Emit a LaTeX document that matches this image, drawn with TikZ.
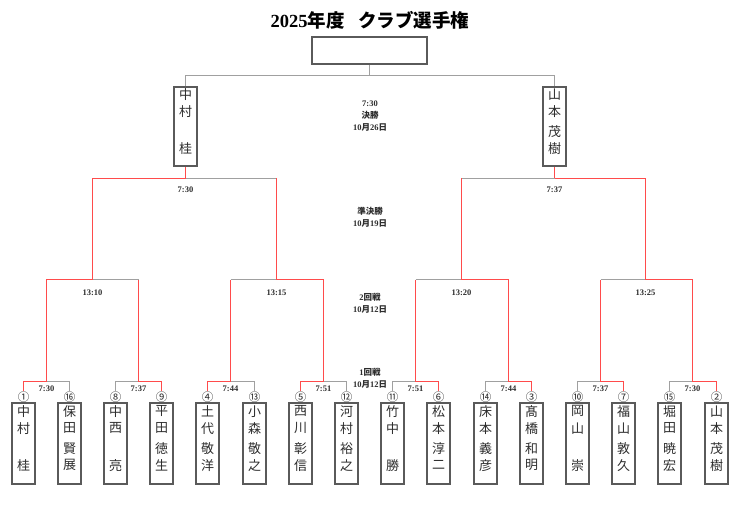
\documentclass[tikz,border=0pt]{standalone}
\usepackage{fontspec}
\setmainfont{Liberation Serif}
\newfontfamily\cjk{Noto Sans CJK JP}
\usetikzlibrary{calc}
\definecolor{redc}{RGB}{255,75,75}
\definecolor{grayc}{RGB}{160,160,160}
\definecolor{boxc}{RGB}{90,90,90}
\definecolor{txt}{RGB}{45,45,45}
\newcommand\J[1]{{\cjk #1}}
\newcommand\pl[7]{%
  \node[pbox] (#1) at (#2,443.5) {};
  \node[num] (#1n) at (#2,397) {#3};
  \node[ch] at ($(#1.north)+(0,9)$) {#4};
  \node[ch] at ($(#1.north)+(0,26)$) {#5};
  \node[ch] at ($(#1.north)+(0,46)$) {#6};
  \node[ch] at ($(#1.north)+(0,63)$) {#7};
}
\begin{document}
\begin{tikzpicture}[x=1bp,y=-1bp,
  pbox/.style={draw=boxc, line width=1.4bp, minimum width=22.7bp, minimum height=81bp, inner sep=0pt},
  fbox/.style={draw=boxc, line width=1.4bp, minimum width=23bp, minimum height=79bp, inner sep=0pt},
  tbox/.style={draw=boxc, line width=1.4bp, minimum width=115bp, minimum height=27bp, inner sep=0pt},
  ch/.style={font={\cjk\fontsize{13bp}{13bp}\selectfont}, text=txt, inner sep=0pt},
  num/.style={font={\cjk\fontsize{11.5bp}{11.5bp}\selectfont}, text=txt, inner sep=0pt},
  win/.style={draw=redc, line width=1.7bp},
  lose/.style={draw=grayc, line width=1.5bp},
  tlab/.style={font={\bfseries\fontsize{8.5bp}{8.5bp}\selectfont}, text=txt, inner sep=0pt},
  title/.style={font={\bfseries\fontsize{18.5bp}{18.5bp}\selectfont}, text=black, inner sep=0pt}
]
\fill[white] (0,0) rectangle (750,506);
\useasboundingbox (0,0) rectangle (750,506);

% title
\node[title] (ttl) at (370,20) {2025\J{年度}\hspace{14bp}\J{クラブ選手権}};

% top box and finalists
\node[tbox] (top) at (369.5,50.5) {};
\node[fbox] (F1) at (185.5,126.5) {};
\node[fbox] (F2) at (554.5,126.5) {};
\node[ch] at ($(F1.north)+(0,8)$) {中};
\node[ch] at ($(F1.north)+(0,25)$) {村};
\node[ch] at ($(F1.north)+(0,62)$) {桂};
\node[ch] at ($(F2.north)+(0,8)$) {山};
\node[ch] at ($(F2.north)+(0,25)$) {本};
\node[ch] at ($(F2.north)+(0,45)$) {茂};
\node[ch] at ($(F2.north)+(0,62)$) {樹};

% players
\pl{p1}{23.5}{①}{中}{村}{}{桂}
\pl{p2}{69.5}{⑯}{保}{田}{賢}{展}
\pl{p3}{115.5}{⑧}{中}{西}{}{亮}
\pl{p4}{161.5}{⑨}{平}{田}{徳}{生}
\pl{p5}{207.5}{④}{土}{代}{敬}{洋}
\pl{p6}{254.5}{⑬}{小}{森}{敬}{之}
\pl{p7}{300.5}{⑤}{西}{川}{彰}{信}
\pl{p8}{346.5}{⑫}{河}{村}{裕}{之}
\pl{p9}{392.5}{⑪}{竹}{中}{}{勝}
\pl{p10}{438.5}{⑥}{松}{本}{淳}{二}
\pl{p11}{485.5}{⑭}{床}{本}{義}{彦}
\pl{p12}{531.5}{③}{髙}{橋}{和}{明}
\pl{p13}{577.5}{⑩}{岡}{山}{}{崇}
\pl{p14}{623.5}{⑦}{福}{山}{敦}{久}
\pl{p15}{669.5}{⑮}{堀}{田}{暁}{宏}
\pl{p16}{716.5}{②}{山}{本}{茂}{樹}

% coordinates
\coordinate (m1) at (46.5,381.5);
\coordinate (m2) at (138.5,381.5);
\coordinate (m3) at (230.5,381.5);
\coordinate (m4) at (323.5,381.5);
\coordinate (m5) at (415.5,381.5);
\coordinate (m6) at (508.5,381.5);
\coordinate (m7) at (600.5,381.5);
\coordinate (m8) at (692.5,381.5);
\coordinate (q1) at (92.5,279.5);
\coordinate (q2) at (276.5,279.5);
\coordinate (q3) at (461.5,279.5);
\coordinate (q4) at (645.5,279.5);
\coordinate (s1) at (185.5,178.5);
\coordinate (s2) at (554.5,178.5);
\coordinate (t) at (369.5,75.5);

% gray first
\draw[lose] (p2n.north) |- (m1);
\draw[lose] (p3n.north) |- (m2);
\draw[lose] (p6n.north) |- (m3);
\draw[lose] (p8n.north) |- (m4);
\draw[lose] (p9n.north) |- (m5);
\draw[lose] (p11n.north) |- (m6);
\draw[lose] (p13n.north) |- (m7);
\draw[lose] (p15n.north) |- (m8);
\draw[lose] (m2 |- q1) -- (q1);
\draw[lose] (m3 |- q2) -- (q2);
\draw[lose] (m5 |- q3) -- (q3);
\draw[lose] (m7 |- q4) -- (q4);
\draw[lose] (q2 |- s1) -- (s1);
\draw[lose] (q3 |- s2) -- (s2);
\draw[lose] (F1.north) |- (t) -| (F2.north);
\draw[lose] (t) -- (top.south);

% red
\draw[win] (p1n.north) |- (m1);
\draw[win] (p4n.north) |- (m2);
\draw[win] (p5n.north) |- (m3);
\draw[win] (p7n.north) |- (m4);
\draw[win] (p10n.north) |- (m5);
\draw[win] (p12n.north) |- (m6);
\draw[win] (p14n.north) |- (m7);
\draw[win] (p16n.north) |- (m8);
\draw[win] (m1) |- (q1);
\draw[win] (m2) -- (m2 |- q1);
\draw[win] (m3) -- (m3 |- q2);
\draw[win] (m4) |- (q2);
\draw[win] (m5) -- (m5 |- q3);
\draw[win] (m6) |- (q3);
\draw[win] (m7) -- (m7 |- q4);
\draw[win] (m8) |- (q4);
\draw[win] (q1) |- (s1);
\draw[win] (q2) -- (q2 |- s1);
\draw[win] (q3) -- (q3 |- s2);
\draw[win] (q4) |- (s2);
\draw[win] (s1) -- (F1.south);
\draw[win] (s2) -- (F2.south);

% time labels
\node[tlab] at ($(m1)+(0,7)$) {7:30};
\node[tlab] at ($(m2)+(0,7)$) {7:37};
\node[tlab] at ($(m3)+(0,7)$) {7:44};
\node[tlab] at ($(m4)+(0,7)$) {7:51};
\node[tlab] at ($(m5)+(0,7)$) {7:51};
\node[tlab] at ($(m6)+(0,7)$) {7:44};
\node[tlab] at ($(m7)+(0,7)$) {7:37};
\node[tlab] at ($(m8)+(0,7)$) {7:30};
\node[tlab] at ($(q1)+(0,13)$) {13:10};
\node[tlab] at ($(q2)+(0,13)$) {13:15};
\node[tlab] at ($(q3)+(0,13)$) {13:20};
\node[tlab] at ($(q4)+(0,13)$) {13:25};
\node[tlab] at ($(s1)+(0,11)$) {7:30};
\node[tlab] at ($(s2)+(0,11)$) {7:37};

% round labels
\node[tlab] (fa) at (370,104) {7:30};
\node[tlab] (fb) at (370,115) {\J{決勝}};
\node[tlab] (fc) at (370,127) {10\J{月}26\J{日}};
\node[tlab] (sa) at (370,211) {\J{準決勝}};
\node[tlab] (sb) at (370,223) {10\J{月}19\J{日}};
\node[tlab] (ra) at (370,297) {2\J{回戦}};
\node[tlab] (rb) at (370,309) {10\J{月}12\J{日}};
\node[tlab] (oa) at (370,372) {1\J{回戦}};
\node[tlab] (ob) at (370,384) {10\J{月}12\J{日}};
\end{tikzpicture}
\end{document}
